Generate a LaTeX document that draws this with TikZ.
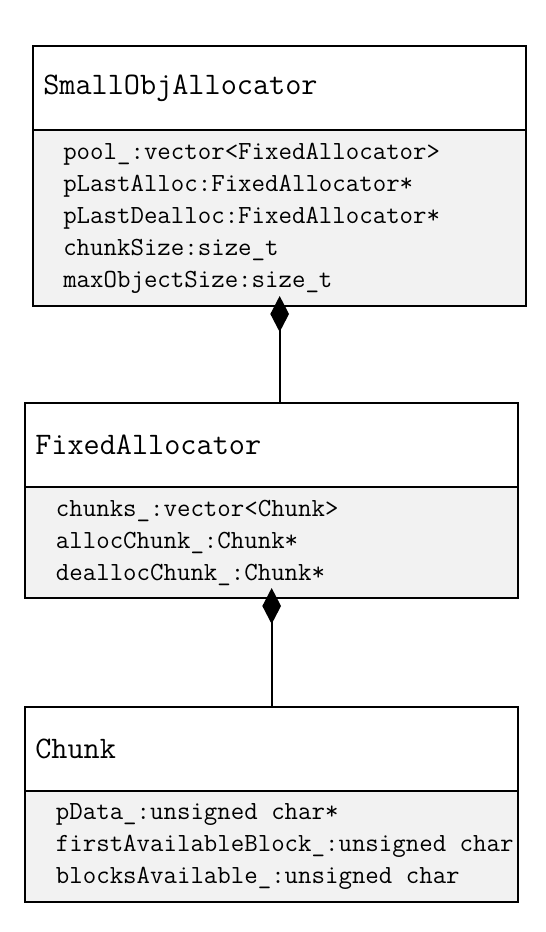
\documentclass[tikz,border=0pt]{standalone}
\usepackage{fontspec}
\usepackage{xcolor}
\usepackage{tikz}
\usetikzlibrary{positioning,arrows.meta}
\definecolor{attrgray}{RGB}{242,242,242}

\begin{document}
\begin{tikzpicture}[x=0.75pt, y=-0.75pt,
    namebox/.style={draw, line width=1.3pt, fill=white, inner sep=0pt, outer sep=0pt, minimum width=370pt, minimum height=63pt},
    attrbox/.style={draw, line width=1.3pt, fill=attrgray, inner sep=0pt, outer sep=0pt, minimum width=370pt},
    nametext/.style={anchor=west, inner sep=0pt, font=\ttfamily\fontsize{23.5}{27}\selectfont},
    attrtext/.style={anchor=west, inner sep=0pt, align=left, font=\ttfamily\fontsize{19.6}{24}\selectfont},
    comp/.style={{Diamond[length=27pt,width=14pt]}-, line width=1.5pt, shorten <=-7.5pt}]
    \useasboundingbox (0,0) rectangle (546,932);

    % SmallObjAllocator
    \node[namebox, anchor=north west] (small) at (33,46) {};
    \node[attrbox, minimum height=132pt, below=0pt of small] (smallattr) {};
    \node[nametext] (smallname) at ([xshift=7.5pt]small.west) {SmallObjAllocator};
    \node[attrtext] (smallvars) at ([xshift=22.5pt]smallattr.west)
        {pool\_:vector<FixedAllocator>\\
         pLastAlloc:FixedAllocator*\\
         pLastDealloc:FixedAllocator*\\
         chunkSize:size\_t\\
         maxObjectSize:size\_t};

    % FixedAllocator
    \node[namebox, anchor=north west] (fixed) at (25,403) {};
    \node[attrbox, minimum height=83.25pt, below=0pt of fixed] (fixedattr) {};
    \node[nametext] (fixedname) at ([xshift=7.5pt]fixed.west) {FixedAllocator};
    \node[attrtext] (fixedvars) at ([xshift=23pt]fixedattr.west)
        {chunks\_:vector<Chunk>\\
         allocChunk\_:Chunk*\\
         deallocChunk\_:Chunk*};

    % Chunk
    \node[namebox, anchor=north west] (chunk) at (25,707) {};
    \node[attrbox, minimum height=83.25pt, below=0pt of chunk] (chunkattr) {};
    \node[nametext] (chunkname) at ([xshift=7.5pt]chunk.west) {Chunk};
    \node[attrtext] (chunkvars) at ([xshift=23pt]chunkattr.west)
        {pData\_:unsigned char*\\
         firstAvailableBlock\_:unsigned char\\
         blocksAvailable\_:unsigned char};

    \draw[comp] (smallattr.south) -- (smallattr.south |- fixed.north);
    \draw[comp] (fixedattr.south) -- (chunk.north);
\end{tikzpicture}
\end{document}
